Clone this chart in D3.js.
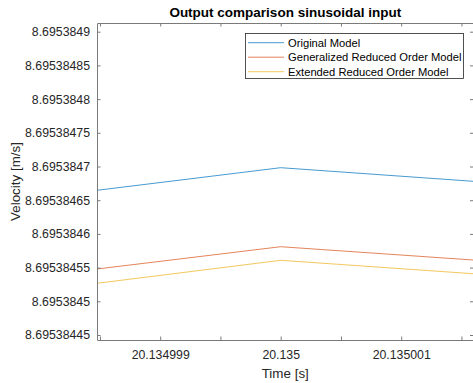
<!DOCTYPE html>
<html>
<head>
<meta charset="utf-8">
<script src="https://cdn.jsdelivr.net/npm/d3@7"></script>
<style>
  html, body { margin: 0; padding: 0; background: #fff; }
  svg { display: block; font-family: "Liberation Sans", Arial, sans-serif; }
</style>
</head>
<body>
<svg id="chart" width="473" height="383"></svg>
<script>
// Simulated velocity around t = 20.135 s for three model variants
const timeSteps = [20.134998, 20.135, 20.135002];
const originalModel = [8.69538465423, 8.69538469822, 8.69538467294];
const generalizedROM = [8.6953845376, 8.69538458101, 8.69538455628];
const extendedROM = [8.69538451607, 8.69538456083, 8.69538453592];

const seriesNames = ["Original Model", "Generalized Reduced Order Model", "Extended Reduced Order Model"];
const seriesColors = ["#0072BD", "#D95319", "#EDB120"];

const yTickLabels = ["8.69538445", "8.6953845", "8.69538455", "8.6953846", "8.69538465",
                     "8.6953847", "8.69538475", "8.6953848", "8.69538485", "8.6953849"];
const xTickValues = [20.1349985, 20.134999, 20.1349995, 20.135, 20.1350005, 20.135001, 20.1350015];
const xTickLabels = ["", "20.134999", "", "20.135", "", "20.135001", ""];

const xDomain = [20.1349984755, 20.1350016];
const yDomain = [8.6953844426, 8.6953849129];

const W = 473, H = 383;
const plot = { left: 97, right: 473.5, top: 23, bottom: 340 };
const axisColor = "#262626";
const frameColor = "#7a7a7a";

const svg = d3.select("#chart");

const x = d3.scaleLinear().domain(xDomain).range([plot.left, plot.right]);
const y = d3.scaleLinear().domain(yDomain).range([plot.bottom, plot.top]);

svg.append("defs").append("clipPath").attr("id", "plotClip")
  .append("rect")
  .attr("x", plot.left).attr("y", plot.top)
  .attr("width", plot.right - plot.left).attr("height", plot.bottom - plot.top);

// Data lines
const series = [originalModel, generalizedROM, extendedROM];
const line = d3.line().x((d, i) => x(timeSteps[i])).y(d => y(d));
const lines = svg.append("g").attr("clip-path", "url(#plotClip)");
series.forEach((vals, k) => {
  lines.append("path")
    .datum(vals)
    .attr("d", line)
    .attr("fill", "none")
    .attr("stroke", seriesColors[k])
    .attr("stroke-opacity", 0.85)
    .attr("stroke-width", 0.85);
});

// Axes: ticks inward, MATLAB-style box
const tickLen = 3.5;
const yTickValues = yTickLabels.map(Number);

const xAxisBottom = d3.axisBottom(x).tickValues(xTickValues)
  .tickFormat((d, i) => xTickLabels[i]).tickSizeInner(-tickLen).tickSizeOuter(0).tickPadding(10);
const xAxisTop = d3.axisTop(x).tickValues(xTickValues)
  .tickFormat("").tickSizeInner(-tickLen).tickSizeOuter(0);
const yAxisLeft = d3.axisLeft(y).tickValues(yTickValues)
  .tickFormat((d, i) => yTickLabels[i]).tickSizeInner(-tickLen).tickSizeOuter(0).tickPadding(7);
const yAxisRight = d3.axisRight(y).tickValues(yTickValues)
  .tickFormat("").tickSizeInner(-tickLen).tickSizeOuter(0);

function styleAxis(g) {
  g.select(".domain").attr("stroke", frameColor).attr("stroke-width", 1);
  g.selectAll(".tick line").attr("stroke", frameColor).attr("stroke-width", 1);
  g.selectAll(".tick text").attr("fill", axisColor).attr("font-size", 12.3);
}

svg.append("g").attr("transform", `translate(0,${plot.bottom})`).call(xAxisBottom).call(styleAxis);
svg.append("g").attr("transform", `translate(0,${plot.top})`).call(xAxisTop).call(styleAxis);
svg.append("g").attr("transform", `translate(${plot.left},0)`).call(yAxisLeft).call(styleAxis);
svg.append("g").attr("transform", `translate(${plot.right},0)`).call(yAxisRight).call(styleAxis);

// Title and axis labels
svg.append("text")
  .attr("x", (plot.left + plot.right) / 2).attr("y", 17)
  .attr("text-anchor", "middle").attr("font-weight", "bold").attr("font-size", 13.5)
  .attr("fill", "#000")
  .text("Output comparison sinusoidal input");

svg.append("text")
  .attr("x", (plot.left + plot.right) / 2).attr("y", 377.5)
  .attr("text-anchor", "middle").attr("font-size", 13.4).attr("fill", axisColor)
  .text("Time [s]");

svg.append("text")
  .attr("transform", `translate(20,${(plot.top + plot.bottom) / 2}) rotate(-90)`)
  .attr("text-anchor", "middle").attr("font-size", 13.4).attr("fill", axisColor)
  .text("Velocity [m/s]");

// Legend
const legend = svg.append("g");
legend.append("rect")
  .attr("x", 245.5).attr("y", 33.5).attr("width", 218).attr("height", 45)
  .attr("fill", "#fff").attr("stroke", "#262626").attr("stroke-width", 0.8);
seriesNames.forEach((name, k) => {
  const ly = 42.7 + k * 14.5;
  legend.append("line")
    .attr("x1", 248).attr("x2", 284).attr("y1", ly).attr("y2", ly)
    .attr("stroke", seriesColors[k]).attr("stroke-opacity", 0.85).attr("stroke-width", 0.85);
  legend.append("text")
    .attr("x", 288).attr("y", ly + 4).attr("font-size", 11.2).attr("fill", "#000")
    .text(name);
});
</script>
</body>
</html>
